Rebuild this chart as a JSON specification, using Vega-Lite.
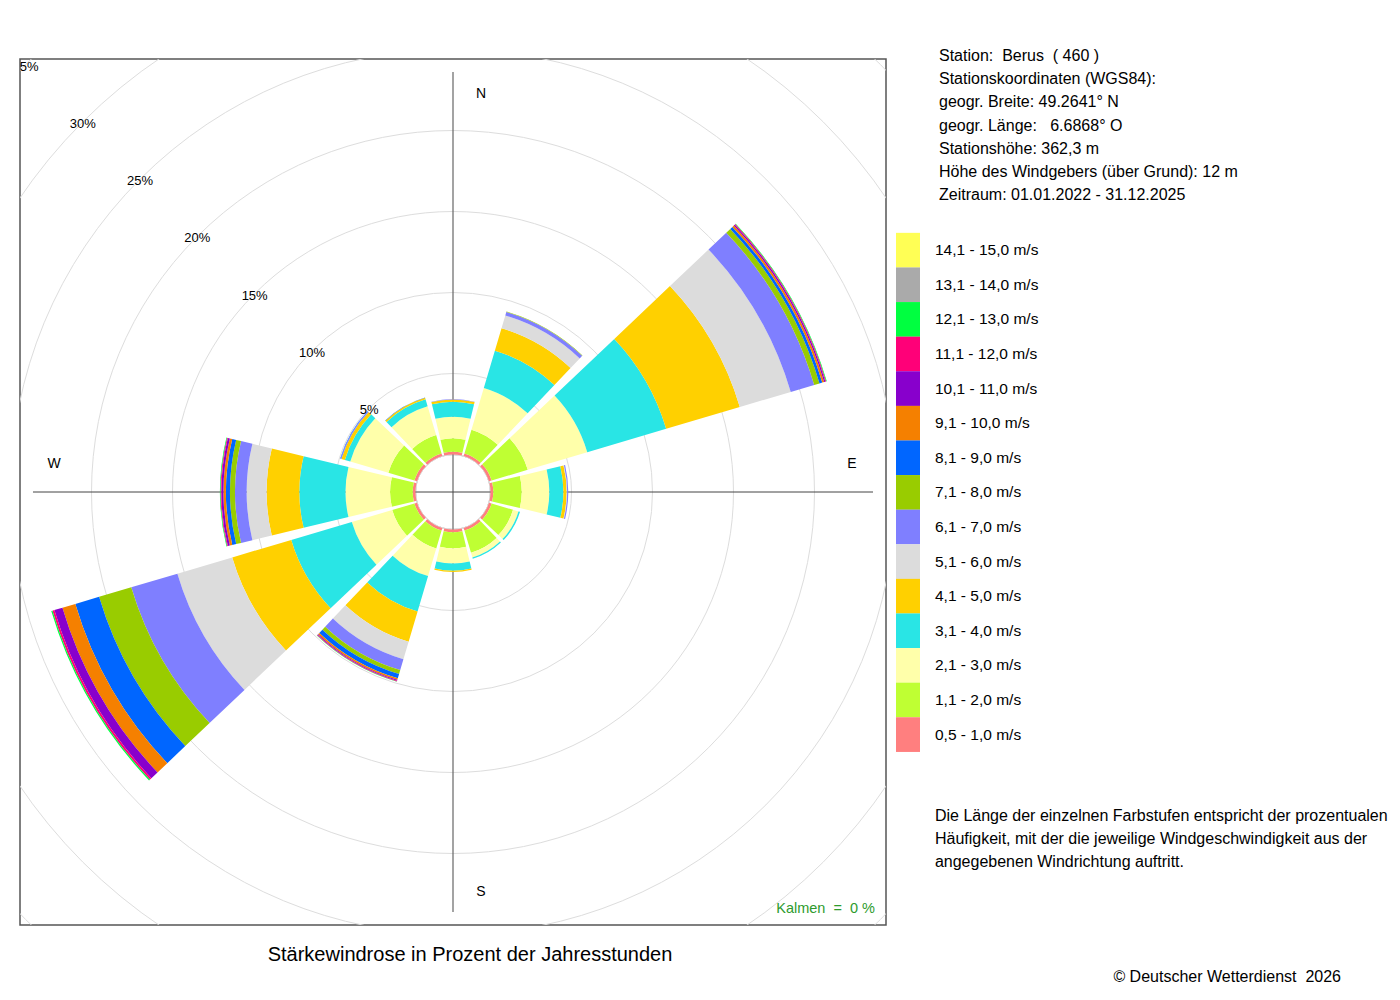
{
  "$schema": "https://vega.github.io/schema/vega-lite/v6.json",
  "width": 866,
  "height": 866,
  "autosize": {"type": "none"},
  "padding": {"left": 20, "top": 59, "right": 514, "bottom": 75},
  "background": "white",
  "config": {
    "font": "Liberation Sans",
    "view": {"stroke": "#555", "strokeWidth": 1.5}
  },
  "datasets": {
    "classes": [
      {"k": 1, "cls": "0,5 - 1,0 m/s"},
      {"k": 2, "cls": "1,1 - 2,0 m/s"},
      {"k": 3, "cls": "2,1 - 3,0 m/s"},
      {"k": 4, "cls": "3,1 - 4,0 m/s"},
      {"k": 5, "cls": "4,1 - 5,0 m/s"},
      {"k": 6, "cls": "5,1 - 6,0 m/s"},
      {"k": 7, "cls": "6,1 - 7,0 m/s"},
      {"k": 8, "cls": "7,1 - 8,0 m/s"},
      {"k": 9, "cls": "8,1 - 9,0 m/s"},
      {"k": 10, "cls": "9,1 - 10,0 m/s"},
      {"k": 11, "cls": "10,1 - 11,0 m/s"},
      {"k": 12, "cls": "11,1 - 12,0 m/s"},
      {"k": 13, "cls": "12,1 - 13,0 m/s"},
      {"k": 14, "cls": "13,1 - 14,0 m/s"},
      {"k": 15, "cls": "14,1 - 15,0 m/s"}
    ],
    "rose": [
      {"dir": 0, "k": 1, "pct": 0.17}, {"dir": 0, "k": 2, "pct": 0.83}, {"dir": 0, "k": 3, "pct": 1.33},
      {"dir": 0, "k": 4, "pct": 0.93}, {"dir": 0, "k": 5, "pct": 0.14}, {"dir": 0, "k": 7, "pct": 0.02},

      {"dir": 30, "k": 1, "pct": 0.17}, {"dir": 30, "k": 2, "pct": 1.53}, {"dir": 30, "k": 3, "pct": 2.68},
      {"dir": 30, "k": 4, "pct": 2.4}, {"dir": 30, "k": 5, "pct": 1.45}, {"dir": 30, "k": 6, "pct": 0.82},
      {"dir": 30, "k": 7, "pct": 0.22}, {"dir": 30, "k": 8, "pct": 0.03},

      {"dir": 60, "k": 1, "pct": 0.17}, {"dir": 60, "k": 2, "pct": 2.33}, {"dir": 60, "k": 3, "pct": 3.83},
      {"dir": 60, "k": 4, "pct": 5.08}, {"dir": 60, "k": 5, "pct": 4.74}, {"dir": 60, "k": 6, "pct": 3.28},
      {"dir": 60, "k": 7, "pct": 1.51}, {"dir": 60, "k": 8, "pct": 0.34}, {"dir": 60, "k": 9, "pct": 0.18},
      {"dir": 60, "k": 10, "pct": 0.12}, {"dir": 60, "k": 11, "pct": 0.08}, {"dir": 60, "k": 12, "pct": 0.05},
      {"dir": 60, "k": 13, "pct": 0.04},

      {"dir": 90, "k": 1, "pct": 0.17}, {"dir": 90, "k": 2, "pct": 1.76}, {"dir": 90, "k": 3, "pct": 1.7},
      {"dir": 90, "k": 4, "pct": 0.87}, {"dir": 90, "k": 5, "pct": 0.2}, {"dir": 90, "k": 6, "pct": 0.03},
      {"dir": 90, "k": 7, "pct": 0.07},

      {"dir": 120, "k": 1, "pct": 0.17}, {"dir": 120, "k": 2, "pct": 1.38}, {"dir": 120, "k": 3, "pct": 0.35},
      {"dir": 120, "k": 4, "pct": 0.1},

      {"dir": 150, "k": 1, "pct": 0.17}, {"dir": 150, "k": 2, "pct": 1.43}, {"dir": 150, "k": 3, "pct": 0.3},
      {"dir": 150, "k": 4, "pct": 0.08},

      {"dir": 180, "k": 1, "pct": 0.17}, {"dir": 180, "k": 2, "pct": 0.99}, {"dir": 180, "k": 3, "pct": 0.93},
      {"dir": 180, "k": 4, "pct": 0.45}, {"dir": 180, "k": 5, "pct": 0.08},

      {"dir": 210, "k": 1, "pct": 0.17}, {"dir": 210, "k": 2, "pct": 1.15}, {"dir": 210, "k": 3, "pct": 1.78},
      {"dir": 210, "k": 4, "pct": 2.28}, {"dir": 210, "k": 5, "pct": 1.95}, {"dir": 210, "k": 6, "pct": 1.13},
      {"dir": 210, "k": 7, "pct": 0.69}, {"dir": 210, "k": 8, "pct": 0.25}, {"dir": 210, "k": 9, "pct": 0.28},
      {"dir": 210, "k": 10, "pct": 0.1}, {"dir": 210, "k": 11, "pct": 0.06}, {"dir": 210, "k": 12, "pct": 0.04},
      {"dir": 210, "k": 13, "pct": 0.02},

      {"dir": 240, "k": 1, "pct": 0.17}, {"dir": 240, "k": 2, "pct": 1.43}, {"dir": 240, "k": 3, "pct": 2.6},
      {"dir": 240, "k": 4, "pct": 3.9}, {"dir": 240, "k": 5, "pct": 3.8}, {"dir": 240, "k": 6, "pct": 3.53},
      {"dir": 240, "k": 7, "pct": 2.97}, {"dir": 240, "k": 8, "pct": 2.07}, {"dir": 240, "k": 9, "pct": 1.53},
      {"dir": 240, "k": 10, "pct": 0.83}, {"dir": 240, "k": 11, "pct": 0.52}, {"dir": 240, "k": 12, "pct": 0.12},
      {"dir": 240, "k": 13, "pct": 0.08},

      {"dir": 270, "k": 1, "pct": 0.17}, {"dir": 270, "k": 2, "pct": 1.4}, {"dir": 270, "k": 3, "pct": 2.75},
      {"dir": 270, "k": 4, "pct": 2.85}, {"dir": 270, "k": 5, "pct": 2.02}, {"dir": 270, "k": 6, "pct": 1.23},
      {"dir": 270, "k": 7, "pct": 0.72}, {"dir": 270, "k": 8, "pct": 0.31}, {"dir": 270, "k": 9, "pct": 0.25},
      {"dir": 270, "k": 10, "pct": 0.15}, {"dir": 270, "k": 11, "pct": 0.13}, {"dir": 270, "k": 12, "pct": 0.05},
      {"dir": 270, "k": 13, "pct": 0.04},

      {"dir": 300, "k": 1, "pct": 0.17}, {"dir": 300, "k": 2, "pct": 1.68}, {"dir": 300, "k": 3, "pct": 2.45},
      {"dir": 300, "k": 4, "pct": 0.35}, {"dir": 300, "k": 5, "pct": 0.22}, {"dir": 300, "k": 7, "pct": 0.05},
      {"dir": 300, "k": 9, "pct": 0.03},

      {"dir": 330, "k": 1, "pct": 0.17}, {"dir": 330, "k": 2, "pct": 1.18}, {"dir": 330, "k": 3, "pct": 1.85},
      {"dir": 330, "k": 4, "pct": 0.45}, {"dir": 330, "k": 5, "pct": 0.1}, {"dir": 330, "k": 9, "pct": 0.02}
    ],
    "grid": [
      {"g": 5, "lab": "5%"}, {"g": 10, "lab": "10%"}, {"g": 15, "lab": "15%"}, {"g": 20, "lab": "20%"},
      {"g": 25, "lab": "25%"}, {"g": 30, "lab": "30%"}, {"g": 35, "lab": "35%"}
    ]
  },
  "layer": [
    {
      "data": {"name": "grid"},
      "mark": {"type": "arc", "filled": false, "stroke": "#dddddd", "strokeWidth": 1, "theta": 0, "theta2": 6.2832, "clip": true},
      "encoding": {
        "radius": {"field": "g", "type": "quantitative", "stack": null,
          "scale": {"type": "linear", "domain": [0, 40], "range": [37.5, 685.5], "zero": false, "nice": false}}
      }
    },
    {
      "data": {"values": [{}]},
      "mark": {"type": "rule", "color": "#666", "strokeWidth": 1.2},
      "encoding": {
        "x": {"datum": 0, "type": "quantitative", "scale": {"domain": [-1, 1], "nice": false, "zero": false}, "axis": null},
        "y": {"datum": -0.97, "type": "quantitative", "scale": {"domain": [-1, 1], "nice": false, "zero": false}, "axis": null},
        "y2": {"datum": 0.97}
      }
    },
    {
      "data": {"values": [{}]},
      "mark": {"type": "rule", "color": "#444", "strokeWidth": 1},
      "encoding": {
        "y": {"datum": 0, "type": "quantitative", "axis": null},
        "x": {"datum": -0.97, "type": "quantitative", "axis": null},
        "x2": {"datum": 0.97}
      }
    },
    {
      "data": {"name": "rose"},
      "transform": [
        {"lookup": "k", "from": {"data": {"name": "classes"}, "key": "k", "fields": ["cls"]}},
        {"stack": "pct", "groupby": ["dir"], "sort": [{"field": "k", "order": "ascending"}], "as": ["r0", "r1"]}
      ],
      "mark": {"type": "arc", "thetaOffset": -0.2356, "theta2Offset": 0.2356},
      "encoding": {
        "theta": {"field": "dir", "type": "quantitative", "stack": null,
          "scale": {"type": "linear", "domain": [0, 360], "range": [0, 6.283185]}},
        "theta2": {"field": "dir"},
        "radius": {"field": "r1", "type": "quantitative", "stack": null},
        "radius2": {"field": "r0"},
        "color": {
          "field": "cls",
          "type": "nominal",
          "scale": {
            "domain": ["14,1 - 15,0 m/s", "13,1 - 14,0 m/s", "12,1 - 13,0 m/s", "11,1 - 12,0 m/s",
              "10,1 - 11,0 m/s", "9,1 - 10,0 m/s", "8,1 - 9,0 m/s", "7,1 - 8,0 m/s", "6,1 - 7,0 m/s",
              "5,1 - 6,0 m/s", "4,1 - 5,0 m/s", "3,1 - 4,0 m/s", "2,1 - 3,0 m/s", "1,1 - 2,0 m/s",
              "0,5 - 1,0 m/s"],
            "range": ["#FFFF55", "#AAAAAA", "#00FF40", "#FF0078", "#8800CC", "#F58000", "#0066FF",
              "#99CC00", "#7F7FFF", "#DCDCDC", "#FFD000", "#29E5E5", "#FFFFAA", "#BFFF33", "#FF7F7F"]
          },
          "legend": {
            "orient": "none",
            "legendX": 919,
            "legendY": -11,
            "padding": 0,
            "title": [
              "Station:\u00a0 Berus\u00a0 ( 460 )",
              "Stationskoordinaten (WGS84):",
              "geogr. Breite: 49.2641° N",
              "geogr. Länge:\u00a0 \u00a06.6868° O",
              "Stationshöhe: 362,3 m",
              "Höhe des Windgebers (über Grund): 12 m",
              "Zeitraum: 01.01.2022 - 31.12.2025"
            ],
            "titleFontSize": 16,
            "titleFontWeight": "normal",
            "titleColor": "#000",
            "titleLineHeight": 23.2,
            "titlePadding": 35,
            "titleLimit": 0,
            "symbolType": "M-1,-1.446H1V1.446H-1Z",
            "symbolSize": 576,
            "symbolStrokeWidth": 0,
            "symbolOpacity": 1,
            "symbolOffset": -43,
            "rowPadding": -1.4,
            "labelFontSize": 15.5,
            "labelColor": "#000",
            "labelOffset": 15,
            "labelLimit": 300
          }
        }
      }
    },
    {
      "data": {"name": "grid"},
      "mark": {"type": "text", "fontSize": 13, "color": "#000", "clip": true, "dy": 2},
      "encoding": {
        "theta": {"datum": 315, "type": "quantitative"},
        "radius": {"field": "g", "type": "quantitative"},
        "text": {"field": "lab"}
      }
    },
    {
      "data": {"values": [{"d": 0, "lab": "N"}, {"d": 180, "lab": "S"}]},
      "mark": {"type": "text", "fontSize": 14, "color": "#000", "dx": 28, "dy": 1},
      "encoding": {
        "theta": {"field": "d", "type": "quantitative"},
        "radius": {"datum": 22.31, "type": "quantitative"},
        "text": {"field": "lab"}
      }
    },
    {
      "data": {"values": [{"d": 90, "lab": "E"}, {"d": 270, "lab": "W"}]},
      "mark": {"type": "text", "fontSize": 14, "color": "#000", "dy": -28},
      "encoding": {
        "theta": {"field": "d", "type": "quantitative"},
        "radius": {"datum": 22.31, "type": "quantitative"},
        "text": {"field": "lab"}
      }
    },
    {
      "data": {"values": [{"t": "Kalmen\u00a0 = \u00a00 %"}]},
      "mark": {"type": "text", "align": "right", "baseline": "alphabetic", "fontSize": 14.5, "color": "#2E9B2E"},
      "encoding": {
        "x": {"datum": 0.9746, "type": "quantitative"},
        "y": {"datum": -0.972, "type": "quantitative"},
        "text": {"field": "t"}
      }
    },
    {
      "data": {"values": [{"t": "Stärkewindrose in Prozent der Jahresstunden"}]},
      "mark": {"type": "text", "align": "center", "baseline": "alphabetic", "fontSize": 20, "color": "#000"},
      "encoding": {
        "x": {"datum": 0.0393, "type": "quantitative"},
        "y": {"datum": -1.0835, "type": "quantitative"},
        "text": {"field": "t"}
      }
    },
    {
      "data": {"values": [{"t": "Die Länge der einzelnen Farbstufen entspricht der prozentualen\nHäufigkeit, mit der die jeweilige Windgeschwindigkeit aus der\nangegebenen Windrichtung auftritt."}]},
      "mark": {"type": "text", "align": "left", "baseline": "alphabetic", "fontSize": 16, "color": "#000", "lineBreak": "\n", "lineHeight": 23},
      "encoding": {
        "x": {"datum": 1.113, "type": "quantitative"},
        "y": {"datum": -0.759, "type": "quantitative"},
        "text": {"field": "t"}
      }
    },
    {
      "data": {"values": [{"t": "© Deutscher Wetterdienst\u00a0 2026"}]},
      "mark": {"type": "text", "align": "right", "baseline": "alphabetic", "fontSize": 16, "color": "#000"},
      "encoding": {
        "x": {"datum": 2.0508, "type": "quantitative"},
        "y": {"datum": -1.131, "type": "quantitative"},
        "text": {"field": "t"}
      }
    }
  ]
}
